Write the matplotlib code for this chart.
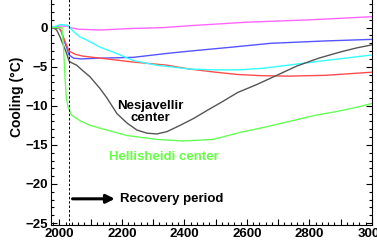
import matplotlib
matplotlib.use("Agg")
import matplotlib.pyplot as plt
from matplotlib.ticker import MultipleLocator, FixedLocator, FuncFormatter

plt.rcParams['font.family'] = ['Liberation Sans', 'DejaVu Sans']
plt.rcParams['font.weight'] = 'bold'

# Cooling curves (year, degC)
gray_years = [1972, 1980, 1991, 2002, 2012, 2023, 2031, 2039, 2055, 2066, 2098, 2130, 2152,
              2184, 2216, 2248, 2280, 2312, 2344, 2386, 2430, 2472, 2520, 2570, 2630, 2690,
              2760, 2830, 2900, 2950, 3000]
gray_vals = [0, 0, -0.3, -1.2, -2.2, -3.3, -4.3, -4.5, -4.8, -5.2, -6.3, -7.8, -9.0,
             -11.0, -12.2, -13.1, -13.5, -13.6, -13.3, -12.5, -11.6, -10.6, -9.5, -8.3, -7.3, -6.2,
             -4.9, -3.9, -3.1, -2.6, -2.2]

green_years = [1972, 2000, 2008, 2013, 2018, 2022, 2028, 2039, 2066, 2098, 2152, 2216, 2312,
               2396, 2492, 2578, 2650, 2735, 2820, 2892, 2950, 3000]
green_vals = [0, 0, 0, -2.5, -6.5, -9.0, -10.2, -11.2, -11.9, -12.5, -13.1, -13.8, -14.3,
              -14.5, -14.3, -13.4, -12.8, -12.0, -11.2, -10.7, -10.2, -9.7]

red_years = [1972, 1997, 2005, 2018, 2031, 2050, 2075, 2130, 2236, 2343, 2417, 2500, 2572,
             2650, 2732, 2850, 3000]
red_vals = [0, 0, -0.4, -1.8, -3.0, -3.4, -3.65, -3.9, -4.4, -4.8, -5.3, -5.7, -6.0,
            -6.15, -6.2, -6.1, -5.7]

blue_years = [1972, 1997, 2005, 2018, 2031, 2045, 2070, 2130, 2236, 2343, 2417, 2550, 2677,
              2850, 3000]
blue_vals = [0, 0, -0.4, -2.0, -3.5, -3.9, -4.0, -3.9, -3.8, -3.3, -3.0, -2.5, -2.0,
             -1.7, -1.5]

cyan_years = [1972, 1990, 2002, 2027, 2033, 2045, 2066, 2088, 2130, 2183, 2236, 2310, 2417,
              2500, 2572, 2650, 2732, 2850, 3000]
cyan_vals = [0, 0.2, 0.4, 0.3, 0.0, -0.5, -1.2, -1.6, -2.5, -3.3, -4.2, -4.8, -5.3,
             -5.4, -5.4, -5.2, -4.8, -4.2, -3.5]

magenta_years = [1972, 2000, 2025, 2035, 2060, 2130, 2236, 2330, 2417, 2600, 2800, 3000]
magenta_vals = [0, 0.2, 0.2, 0.0, -0.2, -0.3, -0.1, 0.0, 0.25, 0.7, 1.0, 1.4]

y_ticks = [-25, -20, -15, -10, -5, 0]
production_end = 2030

fig = plt.figure(figsize=(3.77, 2.42), dpi=100)
ax = fig.add_axes([0.1345, 0.0702, 0.8522, 0.977])

ax.plot(magenta_years, magenta_vals, color='#ff66ff', lw=1.0)
ax.plot(blue_years, blue_vals, color='#5555ff', lw=1.0)
ax.plot(red_years, red_vals, color='#ff4d4d', lw=1.0)
ax.plot(cyan_years, cyan_vals, color='#33ffff', lw=1.0)
ax.plot(gray_years, gray_vals, color='#555555', lw=1.0)
ax.plot(green_years, green_vals, color='#66ff55', lw=1.0)

ax.axvline(production_end, color='black', ls=(0, (2.5, 2)), lw=0.7)

ax.annotate('', xy=(2186, -21.9), xytext=(2033, -21.9),
            arrowprops=dict(arrowstyle='-|>,head_length=0.5,head_width=0.25',
                            color='black', lw=2.2))
ax.text(2194, -21.9, 'Recovery period', fontsize=9.5, fontweight='bold',
        ha='left', va='center')
ax.text(2292, -10.8, 'Nesjavellir\ncenter', fontsize=9.5, fontweight='bold',
        ha='center', va='center', linespacing=1.0)
ax.text(2334, -16.6, 'Hellisheidi center', fontsize=9.5, fontweight='bold',
        color='#66ff44', ha='center', va='center')

ax.set_xlim(1972, 3000)
ax.set_ylim(-25.25, 5)

ax.xaxis.set_major_locator(MultipleLocator(100))
ax.xaxis.set_minor_locator(MultipleLocator(20))
ax.xaxis.set_major_formatter(FuncFormatter(lambda v, p: f"{int(v)}" if int(v) % 200 == 0 else ""))
ax.yaxis.set_major_locator(FixedLocator(y_ticks))
ax.yaxis.set_minor_locator(MultipleLocator(1))

ax.tick_params(which='both', direction='in', left=True, right=True, top=False,
               labelsize=9.5, width=0.8, pad=2)
ax.tick_params(which='major', length=4)
ax.tick_params(which='minor', length=2)
for lbl in ax.get_xticklabels() + ax.get_yticklabels():
    lbl.set_fontweight('bold')
for s in ax.spines.values():
    s.set_linewidth(0.8)

fig.text(17 / 377, 1 - 97 / 242, 'Cooling (\u00b0C)', rotation=90, fontsize=10,
         fontweight='bold', ha='center', va='center')

fig.savefig('out.png', dpi=100)
